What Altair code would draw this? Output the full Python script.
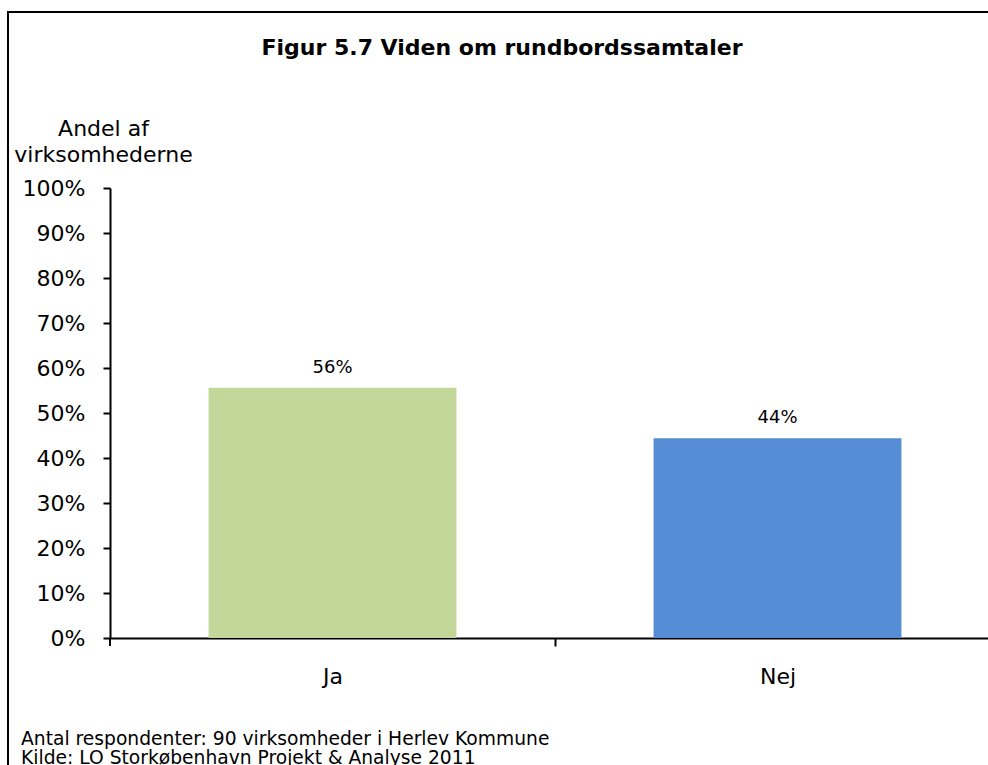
import altair as alt
import pandas as pd

# ---- data ----
categories = ["Ja", "Nej"]
values = [0.556, 0.444]
value_labels = ["56%", "44%"]
bar_colors = ["#C4D79B", "#558ED5"]
y_ticks = [0, 0.1, 0.2, 0.3, 0.4, 0.5, 0.6, 0.7, 0.8, 0.9, 1.0]

title_text = "Figur 5.7 Viden om rundbordssamtaler"
y_title = ["Andel af", "virksomhederne"]
footnote = [
    "Antal respondenter: 90 virksomheder i Herlev Kommune",
    "Kilde: LO Storkøbenhavn Projekt & Analyse 2011",
]

FONT = "DejaVu Sans"
STEP_HALF = 222.5  # half of one category slot, so ticks sit between categories

df = pd.DataFrame({"cat": categories, "val": values, "lab": value_labels})
one = pd.DataFrame({"k": [0]})

x_enc = alt.X(
    "cat:N",
    sort=categories,
    scale=alt.Scale(paddingInner=0.443, paddingOuter=0.2215, range=[0, 890]),
    axis=alt.Axis(
        title=None,
        labelAngle=0,
        labelFontSize=22,
        labelFont=FONT,
        labelColor="black",
        labelPadding=20,
        tickSize=8,
        tickWidth=2,
        tickColor="black",
        tickOffset=STEP_HALF,
        labelOffset=-STEP_HALF,
        domainColor="black",
        domainWidth=2,
    ),
)

y_enc = alt.Y(
    "val:Q",
    scale=alt.Scale(domain=[0, 1], nice=False),
    axis=alt.Axis(
        values=y_ticks,
        format=".0%",
        grid=False,
        labelFontSize=22,
        labelFont=FONT,
        labelColor="black",
        labelPadding=18,
        tickSize=7,
        tickWidth=2,
        tickColor="black",
        domainColor="black",
        domainWidth=2,
        title=y_title,
        titleAngle=0,
        titleAlign="center",
        titleBaseline="alphabetic",
        titleX=-7,
        titleY=-53,
        titleFontSize=22,
        titleFont=FONT,
        titleFontWeight="normal",
        titleColor="black",
        titleLineHeight=26,
    ),
)

bars = alt.Chart(df).mark_bar().encode(
    x=x_enc,
    y=y_enc,
    color=alt.Color("cat:N", scale=alt.Scale(domain=categories, range=bar_colors), legend=None),
)

labels = alt.Chart(df).mark_text(
    font=FONT, fontSize=18, color="black", baseline="alphabetic", dy=-15
).encode(
    x=alt.X("cat:N", sort=categories),
    y="val:Q",
    text="lab:N",
)

# small tick at the start of the category axis (continuation of the value axis)
start_tick = alt.Chart(one).mark_rule(color="black", strokeWidth=2).encode(
    x=alt.value(0), y=alt.value(450), y2=alt.value(458)
)

frame = alt.Chart(one).mark_rect(
    fill="transparent", stroke="black", strokeWidth=2
).encode(
    x=alt.value(-102), x2=alt.value(900),
    y=alt.value(-176), y2=alt.value(620),
)

title = alt.Chart(one).mark_text(
    text=title_text, font=FONT, fontSize=22, fontWeight="bold",
    color="black", align="center", baseline="alphabetic",
).encode(x=alt.value(392), y=alt.value(-133))

notes = alt.Chart(one).mark_text(
    text=footnote, font=FONT, fontSize=18.7, color="black",
    align="left", baseline="alphabetic", lineHeight=19,
).encode(x=alt.value(-89), y=alt.value(557))

chart = alt.layer(frame, bars, labels, start_tick, title, notes).properties(
    width=878,
    height=450,
    autosize=alt.AutoSizeParams(type="none"),
    padding={"left": 110, "top": 188, "right": 0, "bottom": 127},
    background="white",
).configure_view(stroke=None)

chart.save("out.html", embed_options={"renderer": "svg", "actions": False})
